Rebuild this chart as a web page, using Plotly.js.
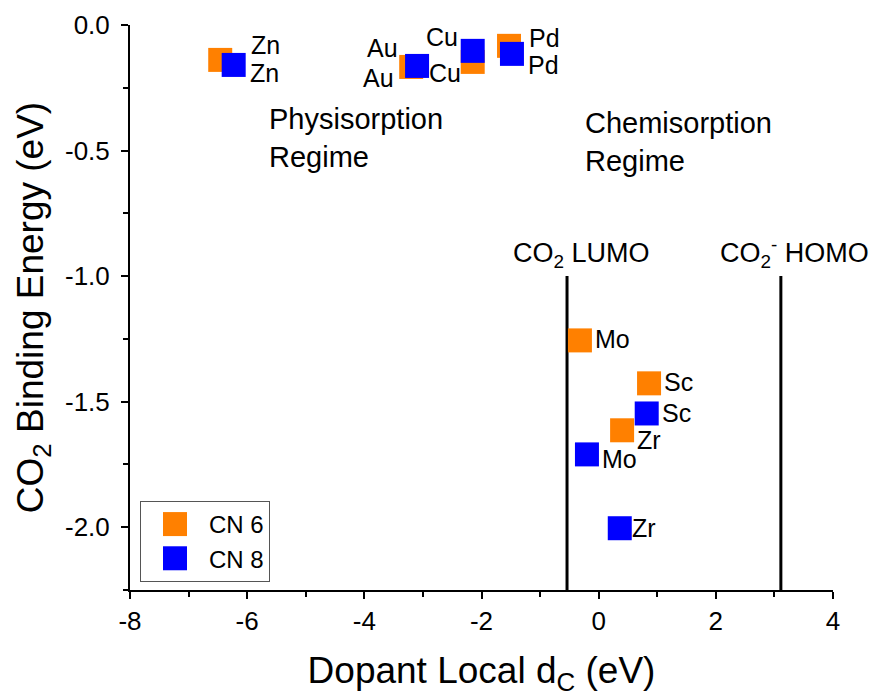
<!DOCTYPE html>
<html>
<head>
<meta charset="utf-8">
<script src="https://cdn.plot.ly/plotly-3.0.1.min.js"></script>
<style>
  html, body { margin: 0; padding: 0; background: #fff; }
  #chart { width: 879px; height: 696px; }
</style>
</head>
<body>
<div id="chart"></div>
<script>
// Dopant elements and their CO2 binding energies vs. local d-band centre
const dopants = ["Zn", "Au", "Cu", "Pd", "Mo", "Sc", "Zr"];

const cn6_dc = [-6.46, -3.20, -2.15, -1.53, -0.32, 0.86, 0.40];
const cn6_be = [-0.139, -0.167, -0.147, -0.083, -1.256, -1.427, -1.614];

const cn8_dc = [-6.23, -3.10, -2.15, -1.48, -0.20, 0.82, 0.36];
const cn8_be = [-0.159, -0.163, -0.103, -0.115, -1.710, -1.547, -2.004];

// CO2 frontier orbital levels (eV) and the energy span their markers cover
const levelNames = ["CO<sub>2</sub> LUMO", "CO<sub>2</sub><sup>-</sup> HOMO"];
const levelEnergy = [-0.54, 3.11];
const levelSpan = [-1.0, -2.25];

const xTickVals = [-8, -6, -4, -2, 0, 2, 4];
const xTickText = ["-8", "-6", "-4", "-2", "0", "2", "4"];
const yTickVals = [0, -0.5, -1.0, -1.5, -2.0];
const yTickText = ["0.0", "-0.5", "-1.0", "-1.5", "-2.0"];

const ORANGE = "#FF8000";
const BLUE = "#0000FF";
const FONT = "Liberation Sans, Arial, sans-serif";

// label nudges (pixels) so the element names sit beside their squares
const cn6Shift = [[45, 15], [-33, -11], [-28, -11], [35, 8], [33, 1], [29, 1], [27, -10]];
const cn8Shift = [[31, -8], [-35, 18], [-31, 14], [32, -11], [33, -5], [30, 0], [24, 0]];

const traces = [];

levelEnergy.forEach(function (e) {
  traces.push({
    x: [e, e], y: levelSpan, mode: "lines", type: "scatter",
    line: { color: "#000", width: 3 }, showlegend: false, hoverinfo: "skip"
  });
});

traces.push({
  x: cn6_dc, y: cn6_be, type: "scatter", mode: "markers", name: "CN 6",
  marker: { symbol: "square", size: 24, color: ORANGE, line: { width: 0 } }
});
traces.push({
  x: cn8_dc, y: cn8_be, type: "scatter", mode: "markers", name: "CN 8",
  marker: { symbol: "square", size: 24, color: BLUE, line: { width: 0 } }
});

const annotations = [];
function addLabels(xs, ys, shifts) {
  dopants.forEach(function (d, i) {
    annotations.push({
      x: xs[i], y: ys[i], text: d, showarrow: false,
      xanchor: "center", yanchor: "middle",
      xshift: shifts[i][0], yshift: shifts[i][1],
      font: { family: FONT, size: 25, color: "#000" }
    });
  });
}
addLabels(cn6_dc, cn6_be, cn6Shift);
addLabels(cn8_dc, cn8_be, cn8Shift);

levelNames.forEach(function (t, i) {
  annotations.push({
    x: levelEnergy[i], y: levelSpan[0], text: t, showarrow: false,
    xanchor: "center", yanchor: "bottom", xshift: 14, yshift: 2,
    font: { family: FONT, size: 27, color: "#000" }
  });
});

annotations.push({
  x: -5.66, y: -0.451, text: "Physisorption<br>Regime", showarrow: false,
  xanchor: "left", yanchor: "middle", align: "left",
  font: { family: FONT, size: 29, color: "#000" }
});
annotations.push({
  x: -0.27, y: -0.465, text: "Chemisorption<br>Regime", showarrow: false,
  xanchor: "left", yanchor: "middle", align: "left",
  font: { family: FONT, size: 29, color: "#000" }
});

const axisCommon = {
  showline: true, linecolor: "#000", linewidth: 2,
  ticks: "outside", ticklen: 7, tickwidth: 2, tickcolor: "#000",
  showgrid: false, zeroline: false, mirror: false,
  tickfont: { family: FONT, size: 26, color: "#000" }
};

const layout = {
  width: 879, height: 696,
  margin: { l: 130, r: 46, t: 25, b: 106 },
  paper_bgcolor: "#fff", plot_bgcolor: "#fff",
  font: { family: FONT, color: "#000" },
  xaxis: Object.assign({}, axisCommon, {
    range: [-8, 4], tickmode: "array", tickvals: xTickVals, ticktext: xTickText,
    minor: { tickmode: "linear", tick0: -7, dtick: 2, ticks: "outside", ticklen: 5, tickwidth: 2, tickcolor: "#000" },
    title: { text: "Dopant Local d<sub>C</sub> (eV)", font: { family: FONT, size: 37, color: "#000" }, standoff: 22 }
  }),
  yaxis: Object.assign({}, axisCommon, {
    range: [-2.25, 0], tickmode: "array", tickvals: yTickVals, ticktext: yTickText,
    minor: { tickmode: "linear", tick0: -0.25, dtick: 0.5, ticks: "outside", ticklen: 5, tickwidth: 2, tickcolor: "#000" },
    ticklabelstandoff: 6,
    title: { text: "CO<sub>2</sub> Binding Energy (eV)", font: { family: FONT, size: 37, color: "#000" }, standoff: 10 }
  }),
  legend: {
    x: 0.0142, y: 0.0142, xanchor: "left", yanchor: "bottom",
    bgcolor: "#fff", bordercolor: "#555", borderwidth: 1,
    font: { family: FONT, size: 24, color: "#000" },
    itemsizing: "trace", itemwidth: 58, tracegroupgap: 0
  },
  annotations: annotations,
  showlegend: true
};

Plotly.newPlot("chart", traces, layout, { displayModeBar: false, staticPlot: true }).then(function (gd) {
  // legend symbols are capped in size by Plotly; draw them as full 24px squares
  gd.querySelectorAll(".legend .legendpoints path").forEach(function (p) {
    p.setAttribute("d", "M12,12H-12V-12H12Z");
  });
});
</script>
</body>
</html>
